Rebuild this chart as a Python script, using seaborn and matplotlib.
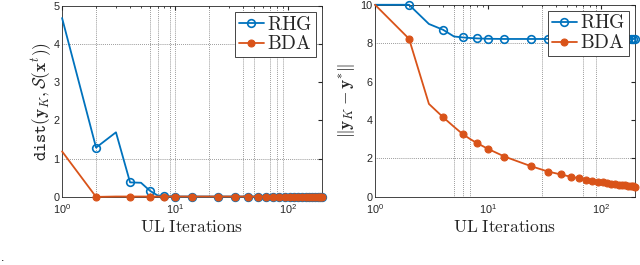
import matplotlib
matplotlib.use('Agg')
import matplotlib.pyplot as plt
import seaborn as sns

# UL iteration indices that were logged
iters = [1, 2, 3, 4, 5, 6, 7, 8, 10, 14, 24, 34, 44, 54, 64, 74, 84, 94,
         104, 114, 124, 134, 144, 154, 164, 174, 184, 194, 200]

# left panel: dist(y_K, S(x^t))
rhg_dist = [4.68, 1.29, 1.69, 0.38, 0.37, 0.16, 0.04, 0.02, 0.01, 0.01,
            0.01, 0.01, 0.01, 0.01, 0.01, 0.01, 0.01, 0.01, 0.01, 0.01,
            0.01, 0.01, 0.01, 0.01, 0.01, 0.01, 0.01, 0.01, 0.01]
bda_dist = [1.19, 0.00, 0.01, 0.01, 0.01, 0.01, 0.01, 0.01, 0.01, 0.01,
            0.01, 0.01, 0.01, 0.01, 0.01, 0.01, 0.01, 0.01, 0.01, 0.01,
            0.01, 0.01, 0.01, 0.01, 0.01, 0.01, 0.01, 0.01, 0.01]

# right panel: ||y_K - y*||
rhg_err = [10.0, 10.0, 9.0, 8.7, 8.35, 8.3, 8.27, 8.25, 8.23, 8.22,
           8.22, 8.22, 8.22, 8.22, 8.22, 8.22, 8.22, 8.22, 8.22, 8.22,
           8.22, 8.22, 8.22, 8.22, 8.22, 8.22, 8.22, 8.22, 8.22]
bda_err = [10.0, 8.23, 4.84, 4.15, 3.65, 3.26, 3.0, 2.8, 2.5, 2.1,
           1.6, 1.32, 1.17, 1.05, 0.97, 0.9, 0.84, 0.79, 0.75, 0.72,
           0.69, 0.66, 0.64, 0.62, 0.6, 0.58, 0.56, 0.55, 0.54]

mark_idx = [1, 3, 5, 7, 8, 9, 10, 11, 12, 13, 14, 15, 16, 17, 18, 19, 20,
            21, 22, 23, 24, 25, 26, 27, 28]

BLUE = '#0072BD'
ORANGE = '#D95319'

sns.set_style('white')
plt.rcParams['font.family'] = ['Liberation Sans', 'DejaVu Sans']
plt.rcParams['mathtext.fontset'] = 'cm'

fig = plt.figure(figsize=(6.4, 2.65), dpi=100)
ax1 = fig.add_axes([0.097, 0.257, 0.406, 0.721])
ax2 = fig.add_axes([0.586, 0.257, 0.406, 0.725])


def draw(ax, y_rhg, y_bda, vgrid, hgrid, ylim, yticks, ylabel, ypad):
    for v in vgrid:
        ax.axvline(v, color='#444444', ls=(0, (1, 1.8)), lw=0.5, zorder=0)
    for h in hgrid:
        ax.axhline(h, color='#444444', ls=(0, (1, 1.8)), lw=0.5, zorder=0)
    sns.lineplot(x=iters, y=y_rhg, ax=ax, color=BLUE, lw=1.3, marker='o',
                 markevery=mark_idx, markersize=5.5, markerfacecolor='none',
                 markeredgecolor=BLUE, markeredgewidth=1.2,
                 label=r'$\mathrm{RHG}$', clip_on=False, zorder=3)
    sns.lineplot(x=iters, y=y_bda, ax=ax, color=ORANGE, lw=1.3, marker='o',
                 markevery=mark_idx, markersize=5, markerfacecolor=ORANGE,
                 markeredgecolor=ORANGE, markeredgewidth=0.8,
                 label=r'$\mathrm{BDA}$', clip_on=False, zorder=4)
    ax.set_xscale('log')
    ax.set_xlim(1, 200)
    ax.set_ylim(*ylim)
    ax.set_yticks(yticks)
    ax.tick_params(which='both', direction='in', top=True, right=True,
                   labelsize=7.8, colors='#262626', length=3)
    ax.tick_params(axis='y', pad=2)
    ax.tick_params(axis='x', pad=4)
    ax.tick_params(which='minor', length=1.5)
    for s in ax.spines.values():
        s.set_color('#262626')
        s.set_linewidth(0.6)
    ax.set_xlabel(r'$\mathrm{UL\ Iterations}$', fontsize=12.5, labelpad=2)
    ax.set_ylabel(ylabel, fontsize=12.5, labelpad=ypad)
    leg = ax.legend(loc='upper right', fontsize=14, handlelength=1.3,
                    handletextpad=0.15, borderpad=0.2, labelspacing=0.1,
                    borderaxespad=0.3, fancybox=False, framealpha=1,
                    edgecolor='#262626')
    leg.get_frame().set_linewidth(0.6)


draw(ax1, rhg_dist, bda_dist, [2, 6, 7, 9, 10, 20, 40, 50, 70, 80, 90],
     [1, 4], (0, 5), [0, 1, 2, 3, 4, 5],
     r'$\mathtt{dist}(\mathbf{y}_K,\mathcal{S}(\mathbf{x}^t))$', 0)
draw(ax2, rhg_err, bda_err, [5, 6, 7, 30, 70, 90],
     [2, 8], (0, 10), [0, 2, 4, 6, 8, 10],
     r'$\|\mathbf{y}_K-\mathbf{y}^{*}\|$', 2)

fig.text(0.002, 0.015, '.', fontsize=9, color='black')

fig.savefig('out.png', dpi=100)
